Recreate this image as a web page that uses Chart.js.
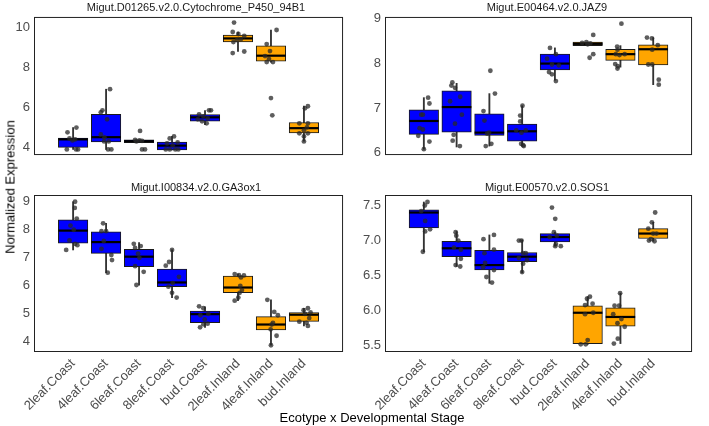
<!DOCTYPE html>
<html>
<head>
<meta charset="utf-8">
<script src="https://cdn.jsdelivr.net/npm/chart.js@4.4.1/dist/chart.umd.min.js"></script>
<style>
    body { margin: 0; background: #fff; font-family: "Liberation Sans", Arial, sans-serif; }
    #wrap { position: relative; width: 709px; height: 426px; overflow: hidden; }
    canvas { position: absolute; }
    .ttl { position: absolute; font-size: 11px; color: #1a1a1a; white-space: nowrap; line-height: 14px; transform: translateX(-50%); }
    .axt { position: absolute; font-size: 13px; color: #000; white-space: nowrap; line-height: 15px; }
</style>
</head>
<body>
<div id="wrap">
    <canvas id="c1" width="360" height="172" style="left:0;top:0"></canvas>
    <canvas id="c2" width="349" height="172" style="left:360px;top:0"></canvas>
    <canvas id="c3" width="360" height="251" style="left:0;top:175px"></canvas>
    <canvas id="c4" width="349" height="251" style="left:360px;top:175px"></canvas>
    <div class="ttl" id="t1" style="left:196px;top:0"></div>
    <div class="ttl" id="t2" style="left:547px;top:0"></div>
    <div class="ttl" id="t3" style="left:196px;top:180px"></div>
    <div class="ttl" id="t4" style="left:547px;top:180px"></div>
    <div class="axt" style="left:372px;top:410px;transform:translateX(-50%)">Ecotype x Developmental Stage</div>
    <div class="axt" style="left:10px;top:187px;transform:translate(-50%,-50%) rotate(-90deg)">Normalized Expression</div>
</div>
<script>
// categories shared by all four panels
const categories = ['2leaf.Coast', '4leaf.Coast', '6leaf.Coast', '8leaf.Coast', 'bud.Coast', '2leaf.Inland', '4leaf.Inland', 'bud.Inland'];
const ecotype = ['Coast', 'Coast', 'Coast', 'Coast', 'Coast', 'Inland', 'Inland', 'Inland'];

// panel 1
const p1Title = 'Migut.D01265.v2.0.Cytochrome_P450_94B1';
const p1Low  = [3.9, 3.9, 4.24, 3.88, 5.13, 8.78, 8.25, 4.31];
const p1Q1   = [4.0, 4.28, 4.24, 3.88, 5.31, 9.25, 8.3, 4.72];
const p1Med  = [4.4, 4.51, 4.31, 4.09, 5.5, 9.43, 8.57, 4.96];
const p1Q3   = [4.47, 5.65, 4.38, 4.26, 5.63, 9.6, 9.06, 5.24];
const p1High = [4.99, 6.9, 4.38, 4.55, 5.84, 9.75, 9.84, 6.06];
const p1Ticks = ['4', '6', '8', '10'];
const p1Range = [3.62, 10.5];
const p1Points = [
    [[0.10,4.99],[-0.17,4.75],[-0.11,4.45],[0.06,4.4],[-0.02,4.35],[-0.19,3.9],[0.09,3.9],[0.15,3.9]],
    [[0.12,6.9],[-0.11,5.85],[-0.16,5.75],[0.03,5.4],[-0.16,4.65],[-0.05,4.5],[-0.06,4.3],[0.08,4.3],[0.06,3.9],[0.16,3.9]],
    [[0.03,4.82],[-0.12,4.38],[0.01,4.35],[0.09,4.33],[-0.08,4.3],[0.09,3.9],[0.18,3.9]],
    [[0.06,4.55],[-0.07,4.45],[0.17,4.25],[-0.15,4.2],[0.02,4.1],[-0.19,3.9],[-0.07,3.9],[0.10,3.9],[0.19,3.9]],
    [[0.12,5.85],[0.18,5.85],[-0.18,5.65],[-0.05,5.55],[0.08,5.45],[-0.22,5.4],[-0.09,5.3],[0.05,5.2]],
    [[-0.12,10.22],[-0.16,9.75],[0.01,9.65],[0.19,9.55],[0.09,9.4],[-0.03,9.35],[-0.14,9.25],[0.19,8.78],[-0.16,8.7]],
    [[0.17,9.85],[-0.13,9.15],[-0.03,8.8],[-0.18,8.55],[-0.06,8.4],[-0.13,8.25],[0.06,8.25],[0.0,6.46],[0.04,5.6]],
    [[0.12,6.05],[0.03,5.95],[0.12,5.2],[-0.14,5.2],[0.09,5.0],[0.0,4.85],[-0.14,4.7],[0.12,4.7],[0.0,4.55],[0.0,4.3]]
];

// panel 2
const p2Title = 'Migut.E00464.v2.0.JAZ9';
const p2Low  = [6.08, 6.13, 6.15, 6.15, 7.62, 8.39, 7.91, 7.52];
const p2Q1   = [6.41, 6.46, 6.39, 6.26, 7.85, 8.39, 8.06, 7.96];
const p2Med  = [6.71, 7.02, 6.45, 6.48, 7.99, 8.43, 8.2, 8.31];
const p2Q3   = [6.96, 7.38, 6.87, 6.64, 8.2, 8.47, 8.31, 8.41];
const p2High = [7.23, 7.55, 7.32, 7.05, 8.34, 8.47, 8.39, 8.57];
const p2Ticks = ['6', '7', '8', '9'];
const p2Range = [5.95, 9.03];
const p2Points = [
    [[0.13,7.23],[0.17,7.1],[-0.08,6.85],[-0.03,6.85],[-0.13,6.55],[-0.03,6.52],[-0.17,6.38],[0.17,6.25],[0.0,6.08]],
    [[-0.13,7.57],[-0.16,7.5],[-0.05,7.45],[-0.2,7.15],[0.11,7.25],[0.16,6.85],[-0.05,6.65],[-0.09,6.4],[-0.12,6.27],[0.1,6.15]],
    [[0.03,7.83],[0.17,7.32],[-0.18,6.93],[-0.15,6.72],[-0.01,6.45],[-0.07,6.43],[0.06,6.2],[-0.11,6.15]],
    [[0.01,7.05],[-0.06,6.83],[-0.06,6.7],[0.11,6.5],[-0.18,6.5],[-0.02,6.45],[-0.03,6.2],[0.03,6.17],[0.05,6.15]],
    [[-0.15,8.34],[0.03,8.2],[-0.24,8.1],[-0.09,7.97],[0.12,7.95],[-0.18,7.8],[-0.09,7.75],[0.03,7.6]],
    [[0.17,8.63],[-0.04,8.47],[-0.17,8.45],[0.08,8.44],[0.0,8.42],[0.17,8.2],[0.06,8.12]],
    [[-0.1,8.37],[-0.09,8.3],[-0.14,8.2],[0.13,8.2],[-0.03,8.18],[-0.16,7.98],[-0.08,7.93],[-0.09,7.88],[0.03,8.88]],
    [[-0.19,8.57],[-0.04,8.55],[0.14,8.4],[-0.03,8.3],[-0.15,7.97],[-0.03,7.97],[0.17,7.63],[0.17,7.52]]
];

// panel 3
const p3Title = 'Migut.I00834.v2.0.GA3ox1';
const p3Low  = [7.28, 6.47, 6.02, 5.58, 4.52, 5.47, 3.88, 4.57];
const p3Q1   = [7.52, 7.16, 6.68, 5.97, 4.69, 5.76, 4.43, 4.73];
const p3Med  = [7.97, 7.56, 7.04, 6.12, 4.99, 5.94, 4.62, 4.97];
const p3Q3   = [8.35, 7.93, 7.3, 6.6, 5.1, 6.35, 4.9, 5.05];
const p3High = [9.0, 8.23, 7.54, 7.28, 5.25, 6.42, 5.5, 5.2];
const p3Ticks = ['4', '5', '6', '7', '8', '9'];
const p3Range = [3.64, 9.24];
const p3Points = [
    [[0.06,9.0],[0.05,8.78],[0.11,8.4],[-0.08,8.15],[0.02,8.0],[-0.11,7.62],[0.06,7.5],[0.13,7.45],[-0.21,7.28]],
    [[-0.09,8.23],[-0.14,7.95],[0.0,7.95],[-0.07,7.6],[-0.14,7.32],[0.16,7.1],[0.18,6.92],[0.05,6.47]],
    [[-0.16,7.5],[0.05,7.42],[-0.12,7.35],[-0.03,7.15],[0.01,7.0],[-0.12,6.7],[0.14,6.5],[-0.08,6.03]],
    [[0.0,7.28],[-0.09,6.85],[-0.19,6.72],[0.21,6.32],[0.02,6.1],[-0.11,5.97],[0.0,5.75],[0.14,5.58]],
    [[-0.18,5.27],[-0.05,5.2],[0.1,5.0],[-0.14,4.95],[-0.01,4.8],[0.08,4.65],[-0.05,4.63],[-0.15,4.52]],
    [[-0.1,6.42],[0.03,6.38],[0.18,6.37],[0.09,6.3],[0.07,6.0],[0.12,5.85],[0.05,5.75],[0.01,5.58],[-0.1,5.47]],
    [[-0.11,5.5],[0.1,5.07],[0.21,4.95],[0.06,4.68],[0.02,4.62],[-0.01,4.45],[0.17,4.22],[0.0,3.88]],
    [[0.12,5.2],[-0.01,5.13],[0.2,5.05],[0.03,5.0],[0.16,4.85],[-0.14,4.72],[0.08,4.68],[0.12,4.57]]
];

// panel 4
const p4Title = 'Migut.E00570.v2.0.SOS1';
const p4Low  = [6.84, 6.63, 6.39, 6.54, 6.92, 5.52, 5.53, 6.99];
const p4Q1   = [7.18, 6.77, 6.58, 6.7, 6.98, 5.53, 5.78, 7.03];
const p4Med  = [7.4, 6.89, 6.65, 6.77, 7.05, 5.97, 5.91, 7.1];
const p4Q3   = [7.44, 6.99, 6.86, 6.83, 7.1, 6.07, 6.04, 7.17];
const p4High = [7.55, 7.13, 7.08, 7.01, 7.12, 6.2, 6.25, 7.26];
const p4Ticks = ['5.5', '6.0', '6.5', '7.0', '7.5'];
const p4Range = [5.41, 7.65];
const p4Points = [
    [[0.11,7.55],[0.03,7.5],[-0.08,7.42],[0.04,7.28],[0.04,7.13],[0.19,7.16],[-0.03,6.84]],
    [[-0.03,7.12],[-0.01,7.07],[0.05,7.0],[-0.08,6.9],[0.13,6.87],[0.13,6.74],[-0.03,6.65],[0.11,6.63]],
    [[0.14,7.08],[-0.18,7.02],[-0.15,6.82],[0.14,6.87],[-0.13,6.68],[-0.19,6.62],[0.14,6.58],[-0.09,6.48],[0.08,6.4]],
    [[-0.10,7.0],[-0.02,7.0],[0.03,6.82],[0.11,6.82],[-0.10,6.75],[0.15,6.72],[0.03,6.67],[0.0,6.55]],
    [[-0.09,7.47],[0.01,7.31],[-0.03,7.12],[0.06,7.07],[-0.16,7.05],[0.03,6.95],[0.01,6.92],[0.18,6.92]],
    [[0.07,6.2],[-0.02,6.17],[0.15,6.1],[-0.08,6.08],[0.17,5.97],[-0.08,5.95],[0.0,5.58],[-0.21,5.52],[-0.06,5.52]],
    [[-0.01,6.25],[-0.18,6.07],[-0.04,6.07],[-0.22,5.95],[0.03,5.88],[-0.09,5.82],[0.13,5.77],[-0.08,5.6],[-0.2,5.53]],
    [[0.06,7.4],[-0.04,7.26],[-0.15,7.17],[0.0,7.1],[0.1,7.1],[-0.07,7.02],[0.04,6.99],[-0.13,7.0]]
];

const ecoColors = { Coast: '#0000FF', Inland: '#FFA500' };
const tickGrey = '#4d4d4d';
const boxWidth = 29.5;

// black frame round each panel, like theme_bw
const framePlugin = {
    id: 'frame',
    afterDraw(chart) {
        const a = chart.chartArea, ctx = chart.ctx;
        ctx.save();
        ctx.strokeStyle = '#222';
        ctx.lineWidth = 1;
        ctx.strokeRect(a.left + 0.5, a.top + 0.5, a.right - a.left - 1, a.bottom - a.top - 1);
        ctx.restore();
    }
};

function makePanel(id, title, low, q1, med, q3, high, points, ticks, range, opts) {
    document.getElementById('t' + id.slice(1)).textContent = title;
    const xs = categories.map((c, i) => i + 1);

    new Chart(document.getElementById(id), {
        data: {
            datasets: [
                {
                    type: 'bar',
                    data: xs.map((x, i) => ({ x: x, y: [low[i], high[i]] })),
                    backgroundColor: '#333',
                    barThickness: 1.2,
                    grouped: false,
                    order: 3
                },
                {
                    type: 'bar',
                    data: xs.map((x, i) => ({ x: x, y: [q1[i], q3[i]] })),
                    backgroundColor: ecotype.map(e => ecoColors[e]),
                    borderColor: '#1a1a1a',
                    borderWidth: 1,
                    borderSkipped: false,
                    barThickness: boxWidth,
                    grouped: false,
                    order: 2
                },
                {
                    type: 'scatter',
                    data: xs.map((x, i) => ({ x: x, y: med[i] })),
                    pointStyle: 'line',
                    pointRadius: boxWidth / 2,
                    borderColor: '#000',
                    borderWidth: 2.2,
                    order: 1
                },
                {
                    type: 'scatter',
                    data: points.flatMap((grp, i) => grp.map(p => ({ x: i + 1 + p[0], y: p[1] }))),
                    pointRadius: 2.4,
                    borderWidth: 0,
                    backgroundColor: 'rgba(40,40,40,0.75)',
                    order: 0
                }
            ]
        },
        options: {
            responsive: false,
            animation: false,
            layout: { padding: opts.padding },
            plugins: { legend: { display: false }, tooltip: { enabled: false } },
            scales: {
                x: {
                    type: 'linear',
                    min: 0.4,
                    max: 8.6,
                    display: opts.showX,
                    grid: { display: false, drawTicks: false },
                    border: { display: false },
                    afterBuildTicks: s => { s.ticks = xs.map(v => ({ value: v })); },
                    afterFit: s => { s.height = opts.showX ? 74 : 0; s.paddingLeft = 0; s.paddingRight = 0; },
                    ticks: {
                        autoSkip: false,
                        minRotation: 45,
                        maxRotation: 45,
                        padding: 4,
                        color: tickGrey,
                        font: { family: 'Liberation Sans', size: 13 },
                        callback: v => categories[Math.round(v) - 1]
                    }
                },
                y: {
                    type: 'linear',
                    min: range[0],
                    max: range[1],
                    grid: { display: false, drawTicks: false },
                    border: { display: false },
                    afterBuildTicks: s => { s.ticks = ticks.map(t => ({ value: parseFloat(t) })); },
                    afterFit: s => { s.width = opts.yWidth; },
                    ticks: {
                        padding: 4,
                        color: tickGrey,
                        font: { family: 'Liberation Sans', size: 13 },
                        callback: (v, i) => ticks[i]
                    }
                }
            }
        },
        plugins: [framePlugin]
    });
}

makePanel('c1', p1Title, p1Low, p1Q1, p1Med, p1Q3, p1High, p1Points, p1Ticks, p1Range,
    { showX: false, yWidth: 34, padding: { top: 15, right: 3, bottom: 1, left: 0 } });
makePanel('c2', p2Title, p2Low, p2Q1, p2Med, p2Q3, p2High, p2Points, p2Ticks, p2Range,
    { showX: false, yWidth: 25, padding: { top: 15, right: 1, bottom: 1, left: 0 } });
makePanel('c3', p3Title, p3Low, p3Q1, p3Med, p3Q3, p3High, p3Points, p3Ticks, p3Range,
    { showX: true, yWidth: 34, padding: { top: 20, right: 3, bottom: 0, left: 0 } });
makePanel('c4', p4Title, p4Low, p4Q1, p4Med, p4Q3, p4High, p4Points, p4Ticks, p4Range,
    { showX: true, yWidth: 25, padding: { top: 20, right: 1, bottom: 0, left: 0 } });
</script>
</body>
</html>
